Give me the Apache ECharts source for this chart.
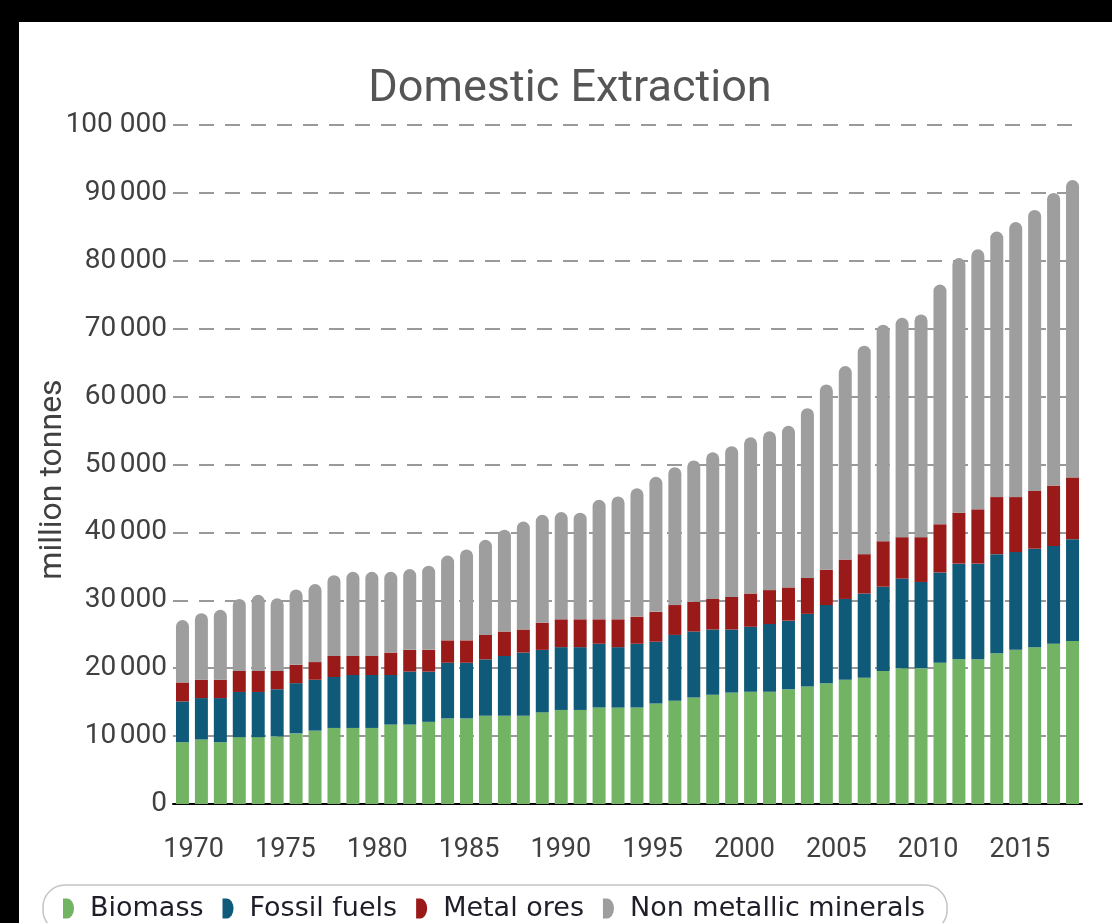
<!DOCTYPE html>
<html><head><meta charset="utf-8">
<script src="https://cdn.jsdelivr.net/npm/echarts@6/dist/echarts.min.js"></script>
<style>
html,body{margin:0;padding:0;background:#000;width:1112px;height:923px;overflow:hidden}
#bg{position:absolute;left:19px;top:22px;right:0;bottom:0;background:#fff}
#chart{position:absolute;left:0;top:0;width:1112px;height:923px}
</style></head><body>
<div id="bg"></div><div id="chart"></div>
<script>
// ---- data (million tonnes) ----
const years = ['1970','1971','1972','1973','1974','1975','1976','1977','1978','1979',
  '1980','1981','1982','1983','1984','1985','1986','1987','1988','1989',
  '1990','1991','1992','1993','1994','1995','1996','1997','1998','1999',
  '2000','2001','2002','2003','2004','2005','2006','2007','2008','2009',
  '2010','2011','2012','2013','2014','2015','2016','2017'];
const biomass = [9100,9500,9100,9850,9850,9950,10400,10800,11200,11200,
  11200,11700,11700,12100,12600,12600,13000,13000,13000,13500,
  13850,13850,14200,14200,14200,14800,15200,15700,16100,16400,
  16550,16550,16900,17300,17800,18300,18600,19600,20000,20000,
  20800,21300,21300,22200,22700,23100,23600,24000];
const fossilFuels = [6000,6100,6500,6650,6650,6950,7400,7500,7500,7800,
  7800,7300,7800,7400,8200,8200,8300,8800,9300,9200,
  9250,9250,9400,8900,9400,9100,9700,9700,9600,9300,
  9550,9950,10100,10700,11500,11900,12400,12400,13200,12700,
  13300,14100,14100,14600,14400,14500,14400,15000];
const metalOres = [2800,2700,2700,3100,3100,2700,2700,2600,3100,2800,
  2800,3300,3200,3200,3300,3300,3600,3600,3400,4000,
  4100,4100,3600,4100,4000,4400,4400,4400,4500,4800,
  4900,5000,4900,5300,5200,5800,5800,6700,6100,6600,
  7100,7500,8000,8400,8100,8500,8900,9100];
const nonMetallic = [9200,9800,10300,10600,11200,10700,11100,11500,11900,12400,
  12400,11900,11900,12400,12500,13400,14000,15000,15900,15900,
  15800,15700,17600,18100,18900,19900,20300,20800,21600,22200,
  23000,23400,23800,25000,27300,28500,30700,31900,32300,32800,
  35300,37500,38300,39100,40500,41400,43100,43800];
const seriesNames = ['Biomass','Fossil fuels','Metal ores','Non metallic minerals'];
const xTickLabels = [1970,1975,1980,1985,1990,1995,2000,2005,2010,2015];
const yTickLabels = ['0','10\u202f000','20\u202f000','30\u202f000','40\u202f000','50\u202f000',
  '60\u202f000','70\u202f000','80\u202f000','90\u202f000','100 000'];
// label-axis range (where the year labels sit in the original)
const LABEL_MIN = 1968.88, LABEL_MAX = 2018.38;

const colors = ['#73b464','#0f5a79','#9a1a19','#9e9e9e'];
const textColor = '#404040';
const chart = echarts.init(document.getElementById('chart'), null, {renderer:'canvas'});
const values = [biomass, fossilFuels, metalOres, nonMetallic];

chart.setOption({
  animation:false,
  title:{text:'Domestic Extraction', left:565, top:62, textAlign:'center',
    textStyle:{fontFamily:'Roboto', fontSize:45, fontWeight:'normal', color:'#555'}},
  grid:{left:173, right:30, top:125, bottom:119},
  legend:{data:seriesNames, left:43, top:885, orient:'horizontal',
    padding:[10,22,10,20], borderColor:'#c4c4c4', borderWidth:1.5, borderRadius:22,
    itemWidth:11, itemHeight:20, itemGap:19,
    icon:'path://M0 0H4A6 9 0 0 1 4 18H0Z',
    textStyle:{fontFamily:'DejaVu Sans', fontSize:27, color:'#1e1e28', padding:[0,0,0,11]}},
  xAxis:[{type:'category', data:years, boundaryGap:true,
      axisLine:{show:true, lineStyle:{color:'#000', width:2}},
      axisTick:{show:false}, axisLabel:{show:false}, splitLine:{show:false}},
    {type:'value', min:LABEL_MIN, max:LABEL_MAX, position:'bottom',
      axisLine:{show:false}, axisTick:{show:false}, splitLine:{show:false},
      axisLabel:{customValues:xTickLabels, formatter:(v)=>String(v),
        fontFamily:'Roboto', fontSize:27, color:textColor, margin:33}}],
  yAxis:{type:'value', min:0, max:100000, interval:10000,
    axisLine:{show:false}, axisTick:{show:false},
    axisLabel:{fontFamily:'Roboto', fontSize:28, color:textColor, margin:6,
      padding:[6,0,0,0],
      formatter:(v)=>yTickLabels[Math.round(v/10000)]},
    splitLine:{lineStyle:{color:'#999', width:2, type:[15,11]}},
    name:'million tonnes', nameLocation:'middle', nameGap:104, nameMoveOverlap:false,
    nameTextStyle:{fontFamily:'Roboto', fontSize:32, color:textColor, padding:[0,30,0,0]}},
  series: seriesNames.map((n,i)=>({
    name:n, type:'bar', stack:'total', barWidth:13, xAxisIndex:0,
    data:values[i],
    itemStyle:{color:colors[i], borderRadius: i===3 ? [6.5,6.5,0,0] : 0}
  }))
});
</script></body></html>
